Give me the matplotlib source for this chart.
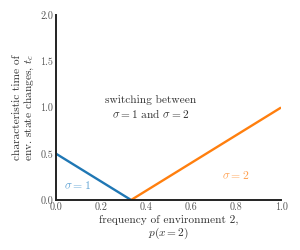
import numpy as np
import matplotlib
matplotlib.use('Agg')
import matplotlib.pyplot as plt

# data
p_sigma1 = [0.0, 1 / 3]
t_sigma1 = [0.5, 0.0]
p_sigma2 = [1 / 3, 1.0]
t_sigma2 = [0.0, 1.0]
xticks = [0.0, 0.2, 0.4, 0.6, 0.8, 1.0]
yticks = [0.0, 0.5, 1.0, 1.5, 2.0]

plt.rcParams['font.family'] = 'serif'
plt.rcParams['font.serif'] = ['cmr10', 'DejaVu Serif']
plt.rcParams['mathtext.fontset'] = 'cm'
plt.rcParams['axes.formatter.use_mathtext'] = True

fig = plt.figure(figsize=(3.0, 2.5), dpi=100)
ax = fig.add_axes([0.187, 0.2, 0.75, 0.74])

ax.plot(p_sigma1, t_sigma1, color='#1f77b4', lw=1.7, solid_capstyle='butt')
ax.plot(p_sigma2, t_sigma2, color='#ff7f0e', lw=1.7, solid_capstyle='butt')

ax.text(0.42, 1.0, 'switching between\n$\\sigma = 1$ and $\\sigma = 2$',
        ha='center', va='center', fontsize=8.2, color='#333333',
        linespacing=1.1)
ax.text(0.035, 0.165, '$\\sigma = 1$', ha='left', va='center',
        fontsize=8.5, color='#5fa2d4')
ax.text(0.8, 0.27, '$\\sigma = 2$', ha='center', va='center',
        fontsize=8.5, color='#ffa04f')

ax.set_xlim(0, 1)
ax.set_ylim(0, 2)
ax.set_xticks(xticks)
ax.set_yticks(yticks)
ax.set_xticklabels([f'{v:.1f}' for v in xticks])
ax.set_yticklabels([f'{v:.1f}' for v in yticks])
ax.tick_params(length=0, labelsize=7.3, colors='#555555', pad=2)

ax.set_xlabel('frequency of environment 2,\n$p(x = 2)$', fontsize=8.2,
              color='#333333', labelpad=2, linespacing=1.05)
ax.set_ylabel('characteristic time of\nenv. state changes, $t_c$', fontsize=8.2,
              color='#333333', labelpad=3, linespacing=1.05)

for s in ['top', 'right']:
    ax.spines[s].set_visible(False)
for s in ['left', 'bottom']:
    ax.spines[s].set_color('#222222')
    ax.spines[s].set_linewidth(1.4)

fig.savefig('out.png', dpi=100, facecolor='white')
